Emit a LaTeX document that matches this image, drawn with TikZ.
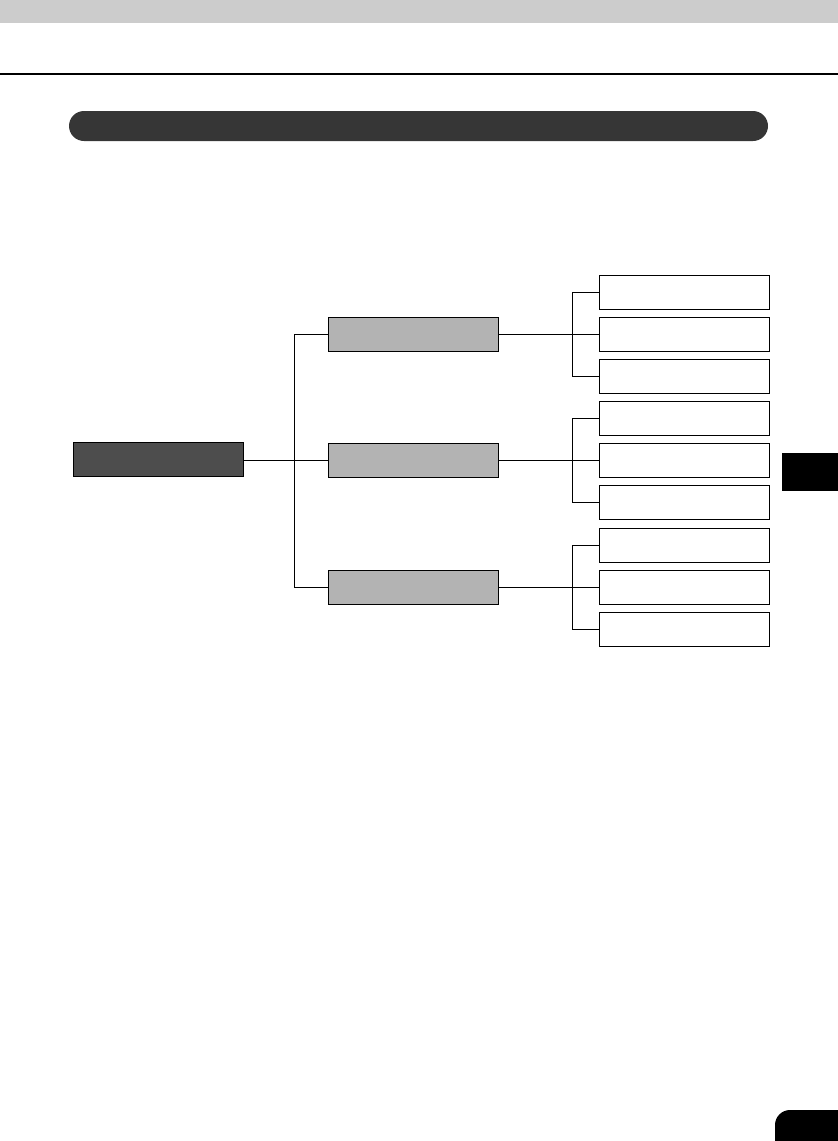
\documentclass[tikz,border=0pt]{standalone}
\usetikzlibrary{positioning}
\definecolor{bandgray}{HTML}{CCCCCC}
\definecolor{pillgray}{HTML}{363636}
\definecolor{rootgray}{HTML}{4D4D4D}
\definecolor{midgray}{HTML}{B3B3B3}
\begin{document}
\begin{tikzpicture}[x=1pt,y=-1pt,
  rootbox/.style={draw=black,line width=1pt,fill=rootgray,minimum width=170pt,minimum height=34pt,inner sep=0pt},
  midbox/.style={draw=black,line width=1pt,fill=midgray,minimum width=170pt,minimum height=34pt,inner sep=0pt},
  leafbox/.style={draw=black,line width=1pt,fill=white,minimum width=170pt,minimum height=34pt,inner sep=0pt},
  conn/.style={draw=black,line width=1pt}]
\useasboundingbox (0,0) rectangle (838,1141);
\clip (0,0) rectangle (838,1141);
% header
\fill[bandgray] (0,0) rectangle (838,23);
\draw[line width=2pt] (0,73.5) -- (838,73.5);
\fill[pillgray,rounded corners=15pt] (69,111) rectangle (768,141);
% right tab and page number pill
\fill[black] (782,453) rectangle (838,491);
\fill[black,rounded corners=15pt] (775,1110) rectangle (870,1170);
% nodes
\node[rootbox] (root) at (158.5,459.3) {};
\node[midbox] (m1) at (413.3,334.3) {};
\node[midbox] (m2) at (413.3,460.3) {};
\node[midbox] (m3) at (413.3,587.3) {};
\node[leafbox] (l1) at (684.3,292.3) {};
\node[leafbox] (l2) at (684.3,334.3) {};
\node[leafbox] (l3) at (684.3,376.3) {};
\node[leafbox] (l4) at (684.3,418.3) {};
\node[leafbox] (l5) at (684.3,460.3) {};
\node[leafbox] (l6) at (684.3,502.3) {};
\node[leafbox] (l7) at (684.3,545.3) {};
\node[leafbox] (l8) at (684.3,587.3) {};
\node[leafbox] (l9) at (684.3,629.3) {};
% junction coordinates
\coordinate (j0) at (294.3,460.3);
\coordinate (j1) at (572.3,334.3);
\coordinate (j2) at (572.3,460.3);
\coordinate (j3) at (572.3,587.3);
% root to mid
\draw[conn] (root.east |- j0) -- (m2.west);
\draw[conn] (j0 |- m1.west) -- (m1.west);
\draw[conn] (j0 |- m3.west) -- (m3.west);
\draw[conn] (j0 |- m1.west) -- (j0 |- m3.west);
% mid to leaves
\draw[conn] (m1.east) -- (l2.west);
\draw[conn] (j1 |- l1.west) -- (l1.west);
\draw[conn] (j1 |- l3.west) -- (l3.west);
\draw[conn] (j1 |- l1.west) -- (j1 |- l3.west);
\draw[conn] (m2.east) -- (l5.west);
\draw[conn] (j2 |- l4.west) -- (l4.west);
\draw[conn] (j2 |- l6.west) -- (l6.west);
\draw[conn] (j2 |- l4.west) -- (j2 |- l6.west);
\draw[conn] (m3.east) -- (l8.west);
\draw[conn] (j3 |- l7.west) -- (l7.west);
\draw[conn] (j3 |- l9.west) -- (l9.west);
\draw[conn] (j3 |- l7.west) -- (j3 |- l9.west);
\end{tikzpicture}
\end{document}
